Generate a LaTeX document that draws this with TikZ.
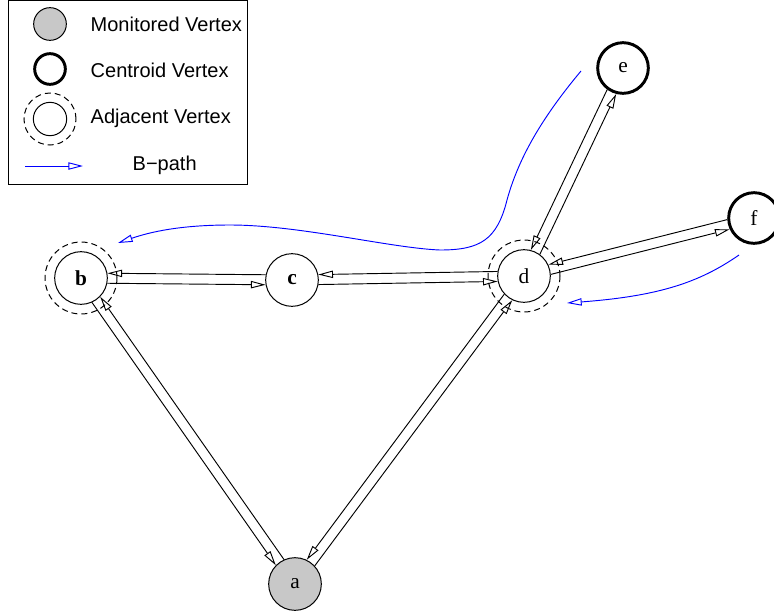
\documentclass[tikz,border=0pt]{standalone}
\usepackage{fontspec}
\setmainfont{Liberation Serif}
\newfontfamily\legendfont{Liberation Sans}
\definecolor{monitorgray}{HTML}{C8C8C8}
\definecolor{bpathblue}{HTML}{0000FF}
\usetikzlibrary{arrows.meta, calc}

\begin{document}
\begin{tikzpicture}[x=0.75pt, y=-0.75pt,
    vertex/.style={draw, circle, inner sep=0pt, minimum size=39.5pt, line width=0.75pt,
      font=\fontsize{16}{18}\selectfont},
    monitored/.style={vertex, fill=monitorgray},
    centroid/.style={vertex, minimum size=38pt, line width=2.2pt},
    ring/.style={draw, dash pattern=on 4.5pt off 3pt, line width=0.75pt},
    edge/.style={draw, line width=0.7pt, -{Triangle[open, length=11pt, width=5.5pt]},
      shorten <=19.8pt, shorten >=19.8pt},
    bpath/.style={draw=bpathblue, line width=0.7pt, -{Triangle[open, length=11pt, width=5.5pt]}},
    legendtext/.style={anchor=west, font=\legendfont\fontsize{15}{18}\selectfont}]
  \useasboundingbox (0,0) rectangle (774,615);

  % Legend
  \draw[line width=0.75pt] (8,0) rectangle (247,184);
  \node[monitored, minimum size=24.5pt] (LMON) at (50,24) {};
  \node[centroid, minimum size=23pt] (LCEN) at (50,69) {};
  \node[vertex, minimum size=25pt] (LADJ) at (50,119) {};
  \draw[ring] (LADJ) circle[radius=19.5pt];
  \coordinate (LBS) at (25,166);
  \coordinate (LBE) at (83,166);
  \draw[bpath] (LBS) -- (LBE);
  \node[legendtext] (TMON) at (86,24) {Monitored Vertex};
  \node[legendtext] (TCEN) at (86,70) {Centroid Vertex};
  \node[legendtext] (TADJ) at (86,118) {Adjacent Vertex};
  \node[legendtext] (TBP) at (128,165) {B−path};

  % Vertices
  \node[monitored] (A) at (295,584) {a};
  \node[vertex] (B) at (81,278) {\bfseries b};
  \node[vertex] (C) at (292,280) {\bfseries c};
  \node[vertex] (D) at (524,276) {d};
  \node[centroid] (E) at (623,68) {e};
  \node[centroid] (F) at (754,218) {f};
  \draw[ring] (B) circle[radius=27pt];
  \draw[ring] (D) circle[radius=27pt];

  % Directed edges, each shifted to its right
  \foreach \u/\v in {B/C, C/B, C/D, D/C, B/A, A/B, A/D, D/A, D/E, E/D, D/F, F/D}
    \draw[edge] ($(\u.center)!3.75pt!-90:(\v.center)$) -- ($(\v.center)!3.75pt!90:(\u.center)$);

  % B-paths
  \draw[bpath] (581,71) .. controls (540,120) and (518,160) .. (507,200)
    .. controls (497,240) and (480,250) .. (440,250)
    .. controls (390,248) and (300,225) .. (230,225)
    .. controls (180,225) and (150,232) .. (118,243);
  \draw[bpath] (739,255) .. controls (700,282) and (660,296) .. (567,303);
\end{tikzpicture}
\end{document}
